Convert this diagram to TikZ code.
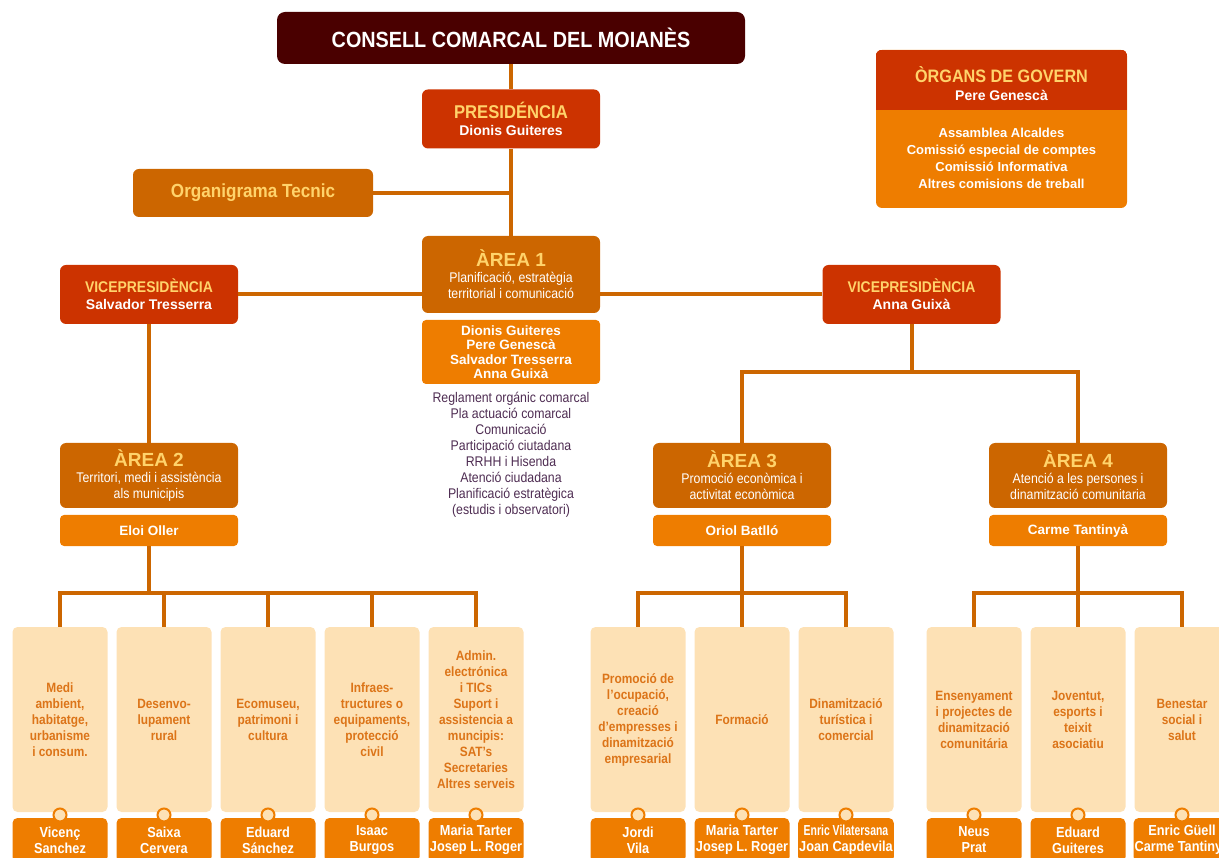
\documentclass[tikz,border=0pt]{standalone}
\usepackage{fontspec}
\setmainfont{Liberation Sans}
\newfontfamily\headfont{Liberation Sans}[FakeStretch=0.9]
\newfontfamily\narrowfont{Liberation Sans}[FakeStretch=0.88]
\newfontfamily\tightfont{Liberation Sans}[FakeStretch=0.72]

\definecolor{cTitle}{HTML}{4A0000}
\definecolor{cRed}{HTML}{CC3300}
\definecolor{cBrown}{HTML}{CC6600}
\definecolor{cOrange}{HTML}{EE7D00}
\definecolor{cPeach}{HTML}{FDE1B5}
\definecolor{cLine}{HTML}{CC6600}
\definecolor{cYellow}{HTML}{FFD36B}
\definecolor{cList}{HTML}{4E2C52}
\definecolor{cDuty}{HTML}{DC7418}

\tikzset{
	link/.style={draw=cLine, line width=4pt},
	box/.style={rounded corners=6pt, inner sep=2pt, align=center, text=white, minimum width=178pt},
	redbox/.style={box, fill=cRed, minimum height=59pt, font=\bfseries\fontsize{14}{17}\selectfont},
	areabox/.style={box, fill=cBrown, minimum height=65pt, font=\narrowfont\fontsize{14}{16}\selectfont},
	whobox/.style={box, fill=cOrange, minimum height=31pt, rounded corners=4pt, font=\bfseries\fontsize{13.5}{14.5}\selectfont},
	dutybox/.style={rounded corners=5pt, fill=cPeach, text=cDuty, align=center, minimum width=95pt, minimum height=185pt, inner sep=1pt, font=\narrowfont\bfseries\fontsize{13.5}{16}\selectfont},
	namebox/.style={rounded corners=5pt, fill=cOrange, text=white, align=center, minimum width=95pt, minimum height=44pt, inner sep=1pt, font=\narrowfont\bfseries\fontsize{14.5}{16}\selectfont},
	knob/.style={circle, fill=cPeach, draw=cOrange, line width=2pt, minimum size=13pt, inner sep=0pt}
}

\newcommand{\headtxt}[2]{{\headfont\bfseries\fontsize{#1}{17}\selectfont\color{cYellow}#2}}
\newcommand{\areatxt}[1]{{\normalfont\bfseries\fontsize{19}{16}\selectfont\color{cYellow}#1}}

\begin{document}
\begin{tikzpicture}[x=1pt, y=-1pt]
	\useasboundingbox (0,0) rectangle (1219,858);

	% top of the chart
	\node[box, fill=cTitle, minimum width=468pt, minimum height=52pt, rounded corners=8pt,
		font=\headfont\bfseries\fontsize{22}{24}\selectfont] (consell) at (511,38) {CONSELL COMARCAL DEL MOIANÈS};
	\node[redbox] (pres) at (511,119) {\headtxt{18.5}{PRESIDÉNCIA}\\Dionis Guiteres};
	\node[box, fill=cBrown, minimum width=240pt, minimum height=48pt] (tec) at (253,193)
		{\headfont\bfseries\fontsize{19}{20}\selectfont\color{cYellow}Organigrama Tecnic};

	% organs de govern
	\node[box, fill=cOrange, minimum width=251pt, minimum height=158pt] (organs) at (1001.5,129) {};
	\begin{scope}
		\clip[rounded corners=6pt] (organs.north west) rectangle (organs.south east);
		\fill[cRed] (organs.north west) rectangle ([yshift=-60pt]organs.north east);
	\end{scope}
	\node[align=center, text=white, font=\bfseries\fontsize{14}{18}\selectfont] (ogtitle) at (1001.5,84)
		{\headtxt{18}{ÒRGANS DE GOVERN}\\Pere Genescà};
	\node[align=center, text=white, font=\bfseries\fontsize{13}{17}\selectfont] (oglist) at (1001.5,158)
		{Assamblea Alcaldes\\Comissió especial de comptes\\Comissió Informativa\\Altres comisions de treball};

	% area 1
	\node[areabox, minimum height=77pt] (a1) at (511,274.5)
		{\areatxt{ÀREA 1}\\Planificació, estratègia\\territorial i comunicació};
	\node[whobox, minimum height=64pt] (a1p) at (511,352)
		{Dionis Guiteres\\Pere Genescà\\Salvador Tresserra\\Anna Guixà};
	\node[align=center, text=cList, font=\narrowfont\fontsize{14}{16}\selectfont] (a1l) at (511,455)
		{Reglament orgánic comarcal\\Pla actuació comarcal\\Comunicació\\Participació ciutadana\\RRHH i Hisenda\\Atenció ciudadana\\Planificació estratègica\\(estudis i observatori)};

	% vicepresidencies
	\node[redbox] (vp1) at (149,294.5) {\headtxt{15.5}{VICEPRESIDÈNCIA}\\Salvador Tresserra};
	\node[redbox] (vp2) at (911.5,294.5) {\headtxt{15.5}{VICEPRESIDÈNCIA}\\Anna Guixà};

	% areas 2, 3 and 4
	\node[areabox] (a2) at (149,475.5) {\areatxt{ÀREA 2}\\Territori, medi i assistència\\als municipis};
	\node[whobox] (a2p) at (149,530.5) {Eloi Oller};
	\node[areabox] (a3) at (742,475.5) {\areatxt{ÀREA 3}\\Promoció econòmica i\\activitat econòmica};
	\node[whobox] (a3p) at (742,530.5) {Oriol Batlló};
	\node[areabox] (a4) at (1078,475.5) {\areatxt{ÀREA 4}\\Atenció a les persones i\\dinamització comunitaria};
	\node[whobox] (a4p) at (1078,530.5) {Carme Tantinyà};

	\coordinate (bus2) at (149,593);
	\coordinate (bus3) at (742,593);
	\coordinate (bus4) at (1078,593);
	\coordinate (bus34) at (911.5,372);

	% links
	\draw[link] (consell) -- (pres);
	\draw[link] (pres) -- (a1);
	\draw[link] (tec) -- (tec -| pres);
	\draw[link] (vp1) -- (vp1 -| a1.west);
	\draw[link] (vp2) -- (vp2 -| a1.east);
	\draw[link] (vp1) -- (a2);
	\draw[link] (vp2) -- (bus34);
	\draw[link] (a3.north) |- (bus34) -| (a4.north);
	\draw[link] (a2p) -- (bus2);
	\draw[link] (a3p) -- (bus3);
	\draw[link] (a4p) -- (bus4);

	% services of area 2
	\foreach \n/\x/\duty/\who in {
		1/60/{Medi\\ambient,\\habitatge,\\urbanisme\\i consum.}/{Vicenç\\Sanchez},
		2/164/{Desenvo-\\lupament\\rural}/{Saixa\\Cervera},
		3/268/{Ecomuseu,\\patrimoni i\\cultura}/{Eduard\\Sánchez},
		4/372/{Infraes-\\tructures o\\equipaments,\\protecció\\civil}/{Isaac\\Burgos},
		5/476/{Admin.\\electrónica\\i TICs\\Suport i\\assistencia a\\muncipis:\\SAT’s\\Secretaries\\Altres serveis}/{Maria Tarter\\Josep L. Roger}}
	{
		\node[dutybox] (d2\n) at (\x,719.5) {\duty};
		\node[namebox] (w2\n) at (\x,840) {\who};
		\node[knob] (k2\n) at (\x,815) {};
		\draw[link] (d2\n) -- (d2\n |- bus2);
	}
	\draw[link] (d21.north) |- (bus2) -| (d25.north);

	% services of area 3
	\foreach \n/\x/\duty/\who in {
		1/638/{Promoció de\\l’ocupació,\\creació\\d’empresses i\\dinamització\\empresarial}/{Jordi\\Vila},
		2/742/{Formació}/{Maria Tarter\\Josep L. Roger},
		3/846/{Dinamització\\turística i\\comercial}/{{\tightfont Enric Vilatersana}\\Joan Capdevila}}
	{
		\node[dutybox] (d3\n) at (\x,719.5) {\duty};
		\node[namebox] (w3\n) at (\x,840) {\who};
		\node[knob] (k3\n) at (\x,815) {};
		\draw[link] (d3\n) -- (d3\n |- bus3);
	}
	\draw[link] (d31.north) |- (bus3) -| (d33.north);

	% services of area 4
	\foreach \n/\x/\duty/\who in {
		1/974/{Ensenyament\\i projectes de\\dinamització\\comunitária}/{Neus\\Prat},
		2/1078/{Joventut,\\esports i\\teixit\\asociatiu}/{Eduard\\Guiteres},
		3/1182/{Benestar\\social i\\salut}/{Enric Güell\\Carme Tantinyà}}
	{
		\node[dutybox] (d4\n) at (\x,719.5) {\duty};
		\node[namebox] (w4\n) at (\x,840) {\who};
		\node[knob] (k4\n) at (\x,815) {};
		\draw[link] (d4\n) -- (d4\n |- bus4);
	}
	\draw[link] (d41.north) |- (bus4) -| (d43.north);
\end{tikzpicture}
\end{document}
